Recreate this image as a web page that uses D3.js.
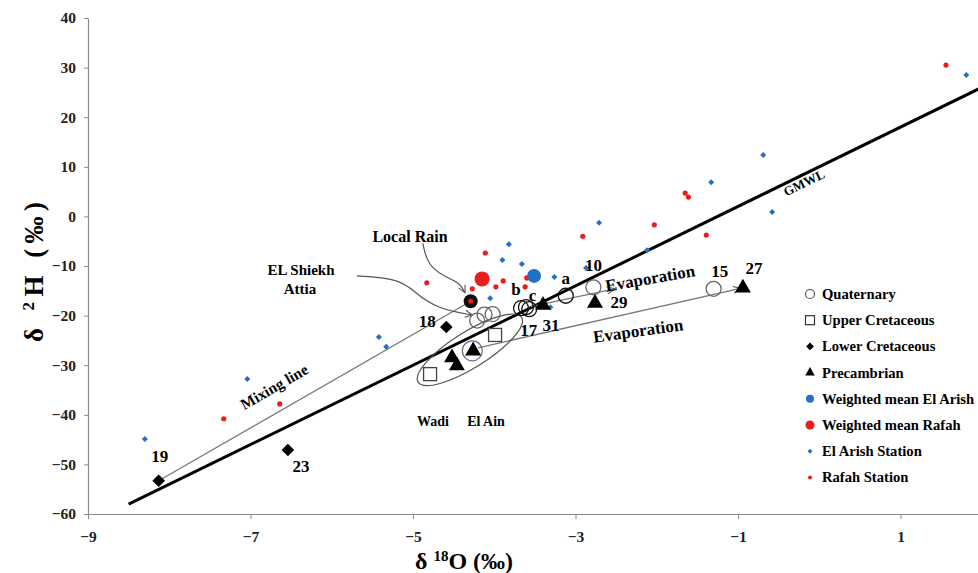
<!DOCTYPE html>
<html>
<head>
<meta charset="utf-8">
<script src="https://cdn.jsdelivr.net/npm/d3@7"></script>
<style>
	body { margin: 0; background: #fff; }
	svg { display: block; }
	text { font-family: "Liberation Serif", "Times New Roman", serif; font-weight: bold; }
	.axis path, .axis line { stroke: #8a8a8a; }
	.axis text { font-size: 15.5px; fill: #222; }
</style>
</head>
<body>
<svg id="chart" width="978" height="573"></svg>
<script>
/*=================
=== Data (δ18O, δ2H)
=================*/
const xTicks = [-9, -7, -5, -3, -1, 1];
const yTicks = [-60, -50, -40, -30, -20, -10, 0, 10, 20, 30, 40];

// Quaternary (open circles) - label, x, y
const quaternary = [
	['10', -2.78, -14.3],
	['15', -1.30, -14.6],
	['a', -3.12, -16.0],
	['b', -3.67, -18.5],
	['c', -3.61, -18.3],
	['', -3.57, -18.7],
	['', -4.21, -21.0],
	['17', -4.12, -19.8],
	['', -4.02, -19.7]
];
const upperCretaceous = [[-3.99, -23.9], [-4.79, -31.8]];
const lowerCretaceous = [['19', -8.13, -53.3], ['23', -6.54, -47.1], ['18', -4.59, -22.3]];
const precambrian = [
	['27', -0.94, -14.2],
	['29', -2.76, -17.3],
	['31', -3.40, -17.7],
	['', -4.52, -28.3],
	['', -4.46, -29.9],
	['', -4.26, -26.9]
];
const meanElArish = [[-3.51, -12.0]];
const meanRafah = [[-4.15, -12.6]];
const localRain = [[-4.29, -17.1]];

const elArishStation = [
	[-8.30, -44.9], [-7.04, -32.8], [-5.42, -24.3], [-5.33, -26.3], [-4.05, -16.5],
	[-3.90, -8.8], [-3.82, -5.6], [-3.66, -9.6], [-3.26, -12.2], [-3.31, -18.3],
	[-2.87, -10.4], [-2.71, -1.3], [-2.12, -6.8], [-1.33, 6.9], [-0.69, 12.4],
	[-0.58, 0.9], [1.81, 28.5]
];
const rafahStation = [
	[-7.33, -40.8], [-6.64, -37.8], [-4.83, -13.4], [-4.27, -14.6], [-4.11, -7.4],
	[-3.98, -14.2], [-3.89, -13.0], [-3.60, -12.4], [-3.62, -14.2], [-2.91, -4.0],
	[-2.03, -1.7], [-1.65, 4.7], [-1.61, 3.9], [-1.39, -3.75], [1.56, 30.5]
];

// GMWL: δ2H = 8 δ18O + 10
const gmwlX = [-8.5, 2];

const mixingLine = [[-8.13, -53.3], [-4.29, -17.1]];
const evapUpper = [[-3.55, -18.2], [-2.52, -14.6]];
const evapLower = [[-4.2, -26.5], [-0.97, -14.5]];
const localRainArrow = [[-4.88, -5.4], [-4.82, -9.8], [-4.62, -12.1], [-4.42, -13.4], [-4.36, -15.4]];
const shiekhArrow = [[-5.69, -12.0], [-5.15, -12.6], [-4.96, -15.6], [-4.70, -18.6], [-4.27, -19.9]];

const legendItems = [
	'Quaternary', 'Upper Cretaceous', 'Lower Cretaceous', 'Precambrian',
	'Weighted mean El Arish', 'Weighted mean Rafah', 'El Arish Station', 'Rafah Station'
];

const blue = '#2170c4';
const red = '#ea1d1d';

/*=================
=== Setting our svg
=================*/
const svg = d3.select('#chart');

const xScale = d3.scaleLinear().domain([-9, 2]).range([88, 981.75]);
const yScale = d3.scaleLinear().domain([-60, 40]).range([514, 18]);

// Arrow marker
const defs = svg.append('defs');
defs.append('marker')
	.attr('id', 'arrow')
	.attr('viewBox', '0 0 10 10')
	.attr('refX', 9).attr('refY', 5)
	.attr('markerWidth', 9).attr('markerHeight', 9)
	.attr('markerUnits', 'userSpaceOnUse')
	.attr('orient', 'auto')
	.append('path')
	.attr('d', 'M1,1 L9,5 L1,9')
	.attr('fill', 'none')
	.attr('stroke', '#555')
	.attr('stroke-width', 1.2);

// Axes
svg.append('g')
	.attr('class', 'axis axis-y')
	.attr('transform', `translate(${xScale(-9)},0)`)
	.call(d3.axisLeft(yScale).tickValues(yTicks).tickSize(4).tickSizeOuter(0).tickPadding(8))
	.select('.domain').attr('stroke-width', 1.2);

svg.append('g')
	.attr('class', 'axis axis-x')
	.attr('transform', `translate(0,${yScale(-60)})`)
	.call(d3.axisBottom(xScale).tickValues(xTicks).tickSize(5).tickSizeOuter(0).tickPadding(12))
	.select('.domain').attr('stroke-width', 1.2);

// Axis titles
svg.append('text')
	.attr('transform', 'translate(43,272) rotate(-90)')
	.attr('text-anchor', 'middle')
	.attr('font-size', 27)
	.attr('textLength', 140)
	.attr('lengthAdjust', 'spacing')
	.html('δ <tspan dy="-9" font-size="17">2</tspan><tspan dy="9">H (‰)</tspan>');

svg.append('text')
	.attr('x', 464).attr('y', 569)
	.attr('text-anchor', 'middle')
	.attr('font-size', 24)
	.html('δ <tspan dy="-8" font-size="15">18</tspan><tspan dy="8">O (‰)</tspan>');

const plot = svg.append('g');

// GMWL
plot.append('line')
	.attr('x1', xScale(gmwlX[0])).attr('y1', yScale(8 * gmwlX[0] + 10))
	.attr('x2', xScale(gmwlX[1])).attr('y2', yScale(8 * gmwlX[1] + 10))
	.attr('stroke', '#000').attr('stroke-width', 3);

const gmwlAngle = Math.atan2(yScale(18) - yScale(10), xScale(1) - xScale(0)) * 180 / Math.PI;
plot.append('text')
	.attr('transform', `translate(${xScale(-0.2) + 3},${yScale(8 * -0.2 + 10) + 12}) rotate(${gmwlAngle})`)
	.attr('text-anchor', 'middle')
	.attr('font-size', 13)
	.text('GMWL');

// Straight guide lines
const straight = (pts, arrow) => plot.append('line')
	.attr('x1', xScale(pts[0][0])).attr('y1', yScale(pts[0][1]))
	.attr('x2', xScale(pts[1][0])).attr('y2', yScale(pts[1][1]))
	.attr('stroke', '#777').attr('stroke-width', 1.3)
	.attr('marker-end', arrow ? 'url(#arrow)' : null);

straight(mixingLine, false);
straight(evapUpper, true);
straight(evapLower, true);

const mixAngle = Math.atan2(yScale(mixingLine[1][1]) - yScale(mixingLine[0][1]), xScale(mixingLine[1][0]) - xScale(mixingLine[0][0])) * 180 / Math.PI;
plot.append('text')
	.attr('transform', `translate(${xScale(-6.7) + 2},${yScale(-36.3) - 5}) rotate(${mixAngle})`)
	.attr('text-anchor', 'middle')
	.attr('font-size', 15.5)
	.text('Mixing line');

plot.append('text')
	.attr('transform', `translate(${xScale(-2.07)},${yScale(-13.6)}) rotate(-10)`)
	.attr('text-anchor', 'middle')
	.attr('font-size', 17)
	.text('Evaporation');

plot.append('text')
	.attr('transform', `translate(${xScale(-2.22)},${yScale(-24.2)}) rotate(-8)`)
	.attr('text-anchor', 'middle')
	.attr('font-size', 17)
	.text('Evaporation');

// Curved arrows
const curve = d3.line().x(d => xScale(d[0])).y(d => yScale(d[1])).curve(d3.curveBasis);
plot.append('path').attr('d', curve(localRainArrow))
	.attr('fill', 'none').attr('stroke', '#555').attr('stroke-width', 1.2).attr('marker-end', 'url(#arrow)');
plot.append('path').attr('d', curve(shiekhArrow))
	.attr('fill', 'none').attr('stroke', '#555').attr('stroke-width', 1.2).attr('marker-end', 'url(#arrow)');

plot.append('text').attr('x', 410).attr('y', 242).attr('text-anchor', 'middle').attr('font-size', 16).text('Local Rain');
plot.append('text').attr('x', 301).attr('y', 275).attr('text-anchor', 'middle').attr('font-size', 15).text('EL Shiekh');
plot.append('text').attr('x', 300).attr('y', 294).attr('text-anchor', 'middle').attr('font-size', 15).text('Attia');
plot.append('text').attr('x', 433).attr('y', 426).attr('text-anchor', 'middle').attr('font-size', 14).text('Wadi');
plot.append('text').attr('x', 486).attr('y', 426).attr('text-anchor', 'middle').attr('font-size', 14).text('El Ain');

// Wadi El Ain ellipse
const ellC = [-4.3, -26.9];
plot.append('ellipse')
	.attr('transform', `translate(${xScale(ellC[0])},${yScale(ellC[1])}) rotate(-32)`)
	.attr('rx', 61).attr('ry', 18)
	.attr('fill', 'none').attr('stroke', '#555').attr('stroke-width', 1.2);

/*=================
=== Symbols
=================*/
plot.selectAll('.ea').data(elArishStation).enter().append('path')
	.attr('class', 'ea')
	.attr('transform', d => `translate(${xScale(d[0])},${yScale(d[1])}) rotate(45) `)
	.attr('d', d3.symbol().type(d3.symbolSquare).size(18))
	.attr('fill', blue);

plot.selectAll('.rf').data(rafahStation).enter().append('circle')
	.attr('class', 'rf')
	.attr('cx', d => xScale(d[0])).attr('cy', d => yScale(d[1]))
	.attr('r', 2.6)
	.attr('fill', red);

plot.selectAll('.mr').data(meanRafah).enter().append('circle')
	.attr('cx', d => xScale(d[0])).attr('cy', d => yScale(d[1]))
	.attr('r', 7.5).attr('fill', red);

plot.selectAll('.me').data(meanElArish).enter().append('circle')
	.attr('cx', d => xScale(d[0])).attr('cy', d => yScale(d[1]))
	.attr('r', 7).attr('fill', blue);

// Ring around the Wadi El Ain triangle
plot.append('circle')
	.attr('cx', xScale(-4.27)).attr('cy', yScale(-27.1))
	.attr('r', 10).attr('fill', 'none').attr('stroke', '#6a6a90').attr('stroke-width', 1.2);

plot.selectAll('.uc').data(upperCretaceous).enter().append('rect')
	.attr('x', d => xScale(d[0]) - 6.5).attr('y', d => yScale(d[1]) - 6.5)
	.attr('width', 13).attr('height', 13)
	.attr('fill', '#fff').attr('stroke', '#444').attr('stroke-width', 1.3);

plot.selectAll('.q').data(quaternary).enter().append('circle')
	.attr('cx', d => xScale(d[1])).attr('cy', d => yScale(d[2]))
	.attr('r', 7.5)
	.attr('fill', 'none')
	.attr('stroke', d => ['a', 'b', 'c', ''].includes(d[0]) && d[1] > -3.8 ? '#111' : '#666')
	.attr('stroke-width', 1.3);

plot.selectAll('.lc').data(lowerCretaceous).enter().append('path')
	.attr('transform', d => `translate(${xScale(d[1])},${yScale(d[2])}) rotate(45)`)
	.attr('d', d3.symbol().type(d3.symbolSquare).size(80))
	.attr('fill', '#000');

plot.selectAll('.pc').data(precambrian).enter().append('path')
	.attr('transform', d => `translate(${xScale(d[1])},${yScale(d[2]) + 1})`)
	.attr('d', d3.symbol().type(d3.symbolTriangle).size(110))
	.attr('fill', '#000');

plot.selectAll('.lr').data(localRain).enter().append('g')
	.attr('transform', d => `translate(${xScale(d[0])},${yScale(d[1])})`)
	.call(g => {
		g.append('circle').attr('r', 7).attr('fill', '#111');
		g.append('circle').attr('r', 2.5).attr('fill', red);
	});

// Point labels
const pointLabels = [
	['19', -8.13, -53.3, 1, -19],
	['23', -6.54, -47.1, 13, 22],
	['18', -4.59, -22.3, -19, 0],
	['17', -3.55, -18.5, -2, 28],
	['31', -3.40, -17.7, 8, 27],
	['29', -2.76, -17.3, 24, 6],
	['10', -2.78, -14.3, 0, -16],
	['15', -1.30, -14.6, 6, -12],
	['27', -0.94, -14.2, 11, -13],
	['a', -3.12, -16.0, 0, -12],
	['b', -3.67, -18.5, -5, -13],
	['c', -3.59, -18.5, 5, -7]
];
plot.selectAll('.pl').data(pointLabels).enter().append('text')
	.attr('x', d => xScale(d[1]) + d[3])
	.attr('y', d => yScale(d[2]) + d[4])
	.attr('text-anchor', 'middle')
	.attr('font-size', 17)
	.attr('font-family', d => /[abc]/.test(d[0]) ? 'Liberation Sans, Arial, sans-serif' : null)
	.text(d => d[0]);

/*=================
=== Legend
=================*/
const legend = svg.append('g').attr('transform', 'translate(810,294)');
const rowH = 26.2;
legendItems.forEach((label, i) => {
	const row = legend.append('g').attr('transform', `translate(0,${i * rowH})`);
	if (i === 0) row.append('circle').attr('r', 4.5).attr('fill', 'none').attr('stroke', '#555').attr('stroke-width', 1.2);
	if (i === 1) row.append('rect').attr('x', -4.5).attr('y', -4.5).attr('width', 9).attr('height', 9).attr('fill', 'none').attr('stroke', '#333').attr('stroke-width', 1.2);
	if (i === 2) row.append('path').attr('transform', 'rotate(45)').attr('d', d3.symbol().type(d3.symbolSquare).size(30)).attr('fill', '#000');
	if (i === 3) row.append('path').attr('d', d3.symbol().type(d3.symbolTriangle).size(40)).attr('fill', '#000');
	if (i === 4) row.append('circle').attr('r', 4).attr('fill', blue);
	if (i === 5) row.append('circle').attr('r', 4.5).attr('fill', red);
	if (i === 6) row.append('path').attr('transform', 'rotate(45)').attr('d', d3.symbol().type(d3.symbolSquare).size(12)).attr('fill', blue);
	if (i === 7) row.append('circle').attr('r', 2).attr('fill', red);
	row.append('text').attr('x', 12).attr('y', 5).attr('font-size', 14.6).text(label);
});
</script>
</body>
</html>
